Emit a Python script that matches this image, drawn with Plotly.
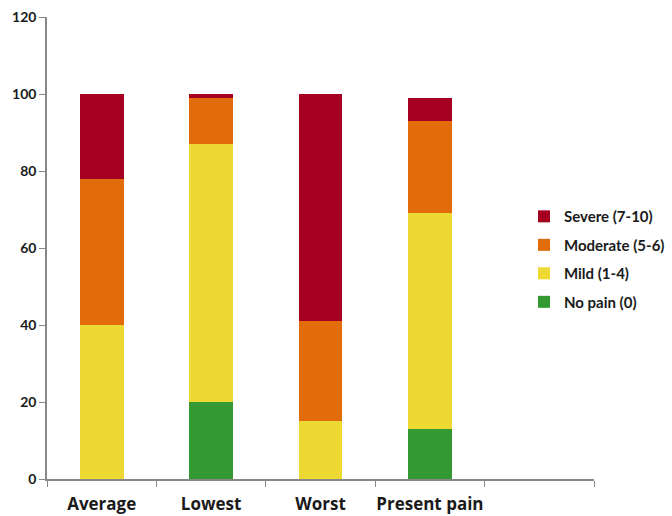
import plotly.graph_objects as go

# Pain-intensity categories (the last slot is intentionally left empty)
categories = ["Average", "Lowest", "Worst", "Present pain", " "]

# Percent of patients in each pain band
no_pain = [0, 20, 0, 13, None]
mild = [40, 67, 15, 56, None]
moderate = [38, 12, 26, 24, None]
severe = [22, 1, 59, 6, None]

series = [
    ("No pain (0)", no_pain, "#339933"),
    ("Mild (1-4)", mild, "#EED932"),
    ("Moderate (5-6)", moderate, "#E36C0A"),
    ("Severe (7-10)", severe, "#A50021"),
]

fig = go.Figure()
for i, (name, vals, color) in enumerate(series):
    fig.add_trace(go.Bar(
        x=categories, y=vals, name=name, legendgroup=str(i),
        legendrank=len(series) - i,
        marker=dict(color=color, line=dict(width=0)),
        width=0.4,
    ))

font_family = "Lato, 'Open Sans', sans-serif"

fig.update_layout(
    barmode="stack",
    width=672, height=516,
    margin=dict(l=47, r=78, t=17, b=37, autoexpand=False),
    paper_bgcolor="white", plot_bgcolor="white",
    font=dict(family=font_family, color="#1a1a1a"),
    legend=dict(
        x=0.872, y=0.476, xanchor="left", yanchor="middle",
        traceorder="grouped", tracegroupgap=6,
        font=dict(size=15, family=font_family, weight="bold"),
        itemwidth=30, bgcolor="rgba(0,0,0,0)",
    ),
    showlegend=True,
)
fig.update_xaxes(
    type="category", categoryorder="array", categoryarray=categories,
    range=[-0.5, 4.5],
    showline=True, linecolor="#888888", linewidth=1.5,
    ticks="outside", tickson="boundaries", ticklen=6, tickcolor="#888888",
    tickfont=dict(size=17, family="'Open Sans', sans-serif", weight="bold"),
    tickangle=0, ticklabelstandoff=9,
    showgrid=False, zeroline=False,
)
fig.update_yaxes(
    range=[0, 120], dtick=20,
    showline=True, linecolor="#888888", linewidth=1.5,
    ticks="outside", ticklen=6, tickcolor="#888888",
    tickfont=dict(size=14, family=font_family, weight="bold"),
    showgrid=False, zeroline=False,
)

fig.write_html("out.html")
